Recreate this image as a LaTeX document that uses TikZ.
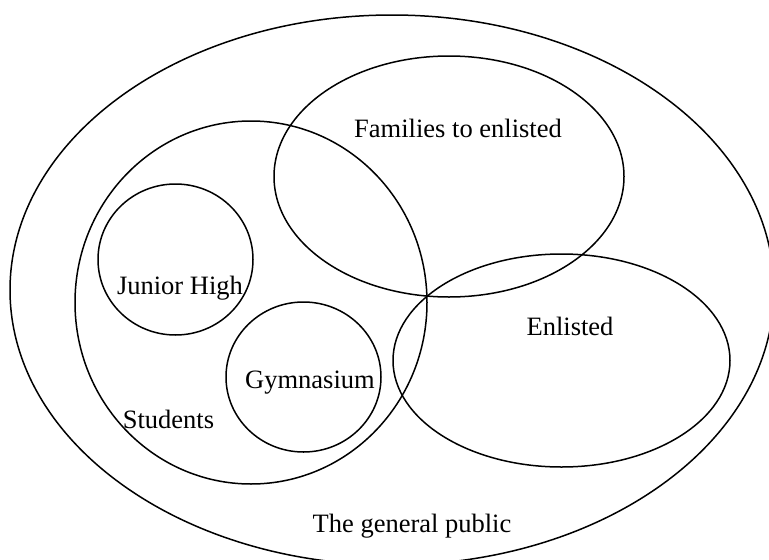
\documentclass[tikz,border=0pt]{standalone}
\usepackage{fontspec}
\setmainfont{Liberation Serif}
\usetikzlibrary{shapes.geometric}
\begin{document}
\begin{tikzpicture}[x=1pt,y=-1pt,
  setshape/.style={draw=black,line width=1.5pt,ellipse,inner sep=0pt,minimum width=#1},
  lbl/.style={font=\fontsize{26.5}{30}\selectfont,inner sep=0pt}]
\useasboundingbox[fill=white] (0,0) rectangle (769,560);
\node[setshape=764pt,minimum height=550pt] (public) at (392,290) {};
\node[setshape=352pt,minimum height=363pt] (students) at (251,302.5) {};
\node[setshape=350pt,minimum height=241pt] (families) at (449,176.5) {};
\node[setshape=337pt,minimum height=213pt] (enlisted) at (561.5,360.5) {};
\node[setshape=155pt,minimum height=151pt] (junior) at (175.5,259.5) {};
\node[setshape=155pt,minimum height=150pt] (gym) at (303.5,377) {};
\node[lbl] (tfam) at (458,128) {Families to enlisted};
\node[lbl] (tjun) at (180,288) {Junior High};
\node[lbl] (tgym) at (310,383) {Gymnasium};
\node[lbl] (tstu) at (168.5,419) {Students};
\node[lbl] (tenl) at (570,326) {Enlisted};
\node[lbl] (tpub) at (412,526) {The general public};
\end{tikzpicture}
\end{document}
